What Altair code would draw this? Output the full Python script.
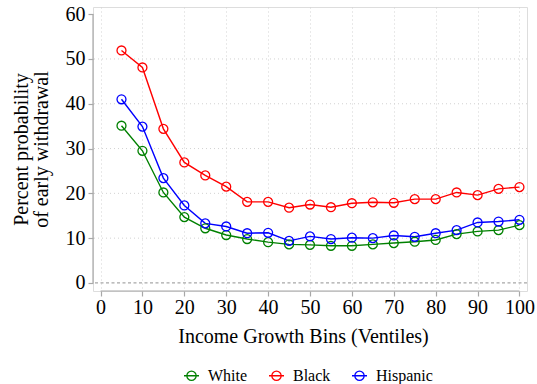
import altair as alt
import pandas as pd

# Ventile bins (x) and the estimated early-withdrawal probability per group
ventiles = list(range(5, 105, 5))
white = [35.1, 29.5, 20.2, 14.7, 12.2, 10.7, 9.8, 9.1, 8.6, 8.5,
         8.3, 8.3, 8.6, 8.9, 9.2, 9.6, 10.9, 11.5, 11.8, 12.9]
black = [51.9, 48.1, 34.4, 26.9, 24.0, 21.5, 18.1, 18.1, 16.8, 17.5,
         16.9, 17.8, 18.0, 17.9, 18.7, 18.7, 20.2, 19.6, 21.0, 21.4]
hispanic = [41.0, 34.9, 23.4, 17.3, 13.3, 12.6, 11.1, 11.2, 9.4, 10.4,
            9.8, 10.1, 10.0, 10.6, 10.3, 11.1, 11.8, 13.5, 13.7, 14.1]

groups = ["White", "Black", "Hispanic"]
colors = ["#008000", "#ff0000", "#0000ff"]

x_ticks = list(range(0, 101, 10))
y_ticks = list(range(0, 61, 10))
y_grid = [10, 20, 30, 40, 50]

df = pd.DataFrame({
    "bin": ventiles * 3,
    "pct": white + black + hispanic,
    "group": [g for g in groups for _ in ventiles],
})

FONT = "Liberation Serif"
AXIS_GRAY = "#a8a8a8"
GRID_GRAY = "#d2d2d2"
W, H = 434, 284

x_scale = alt.Scale(domain=[-1.8, 101.8], nice=False, zero=False)
y_scale = alt.Scale(domain=[-1.8, 61.6], nice=False, zero=False)

x_axis = alt.Axis(
    values=x_ticks, title="Income Growth Bins (Ventiles)", domain=False,
    tickColor=AXIS_GRAY, tickSize=5, tickWidth=1.2,
    labelFont=FONT, titleFont=FONT, labelColor="black", titleColor="black",
    titleFontWeight="normal", titleX=210, titleAlign="center",
    labelFontSize=20, titleFontSize=20, labelPadding=1, titlePadding=9,
    grid=True, gridColor=GRID_GRAY, gridDash=[1, 3], gridWidth=1,
)
y_axis = alt.Axis(
    values=y_ticks, title=["Percent probability", "of early withdrawal"],
    domain=False, tickColor=AXIS_GRAY, tickSize=5, tickWidth=1.2,
    labelFont=FONT, titleFont=FONT, labelColor="black", titleColor="black",
    titleFontWeight="normal",
    labelFontSize=20, titleFontSize=20, labelPadding=3, titlePadding=14,
    titleLineHeight=20, grid=False,
)

symbol_path = ("M-1,0L1,0M-0.62,0A0.62,0.62 0 1,1 0.62,0"
               "A0.62,0.62 0 1,1 -0.62,0")

color = alt.Color(
    "group:N",
    scale=alt.Scale(domain=groups, range=colors),
    legend=alt.Legend(
        title=None, orient="none", direction="horizontal",
        legendX=90, legendY=360, symbolType=symbol_path, symbolSize=225,
        symbolStrokeWidth=1.3, symbolFillColor="transparent",
        labelFont=FONT, labelColor="black",
        labelFontSize=16, labelOffset=8, columnPadding=18,
    ),
)

base = alt.Chart(df).encode(
    x=alt.X("bin:Q", scale=x_scale, axis=x_axis),
    y=alt.Y("pct:Q", scale=y_scale, axis=y_axis),
    color=color,
)

hgrid = alt.Chart(pd.DataFrame({"v": y_grid})).mark_rule(
    color=GRID_GRAY, strokeDash=[1, 3], strokeWidth=1
).encode(y=alt.Y("v:Q", scale=y_scale))

zero_line = alt.Chart(pd.DataFrame({"v": [0]})).mark_rule(
    color=AXIS_GRAY, strokeDash=[3, 2.5], strokeWidth=1.2
).encode(y=alt.Y("v:Q", scale=y_scale))

# Axis lines spanning only the labelled range
y_line = alt.Chart(pd.DataFrame({"a": [0], "b": [60]})).mark_rule(
    color=AXIS_GRAY, strokeWidth=1.2
).encode(x=alt.value(0), y=alt.Y("a:Q", scale=y_scale), y2="b:Q")
x_line = alt.Chart(pd.DataFrame({"a": [0], "b": [100]})).mark_rule(
    color=AXIS_GRAY, strokeWidth=1.2
).encode(y=alt.value(H), x=alt.X("a:Q", scale=x_scale), x2="b:Q")

lines = base.mark_line(strokeWidth=1.4)
points = base.mark_point(filled=False, size=80, strokeWidth=1.3, opacity=1)

chart = alt.layer(hgrid, zero_line, y_line, x_line, lines, points).properties(
    width=W, height=H,
    autosize=alt.AutoSizeParams(type="none"),
    padding={"left": 93, "top": 7, "right": 10, "bottom": 93},
).configure_view(stroke=None).configure(font=FONT)

chart.save("out.html", embed_options={"renderer": "svg", "actions": False})
